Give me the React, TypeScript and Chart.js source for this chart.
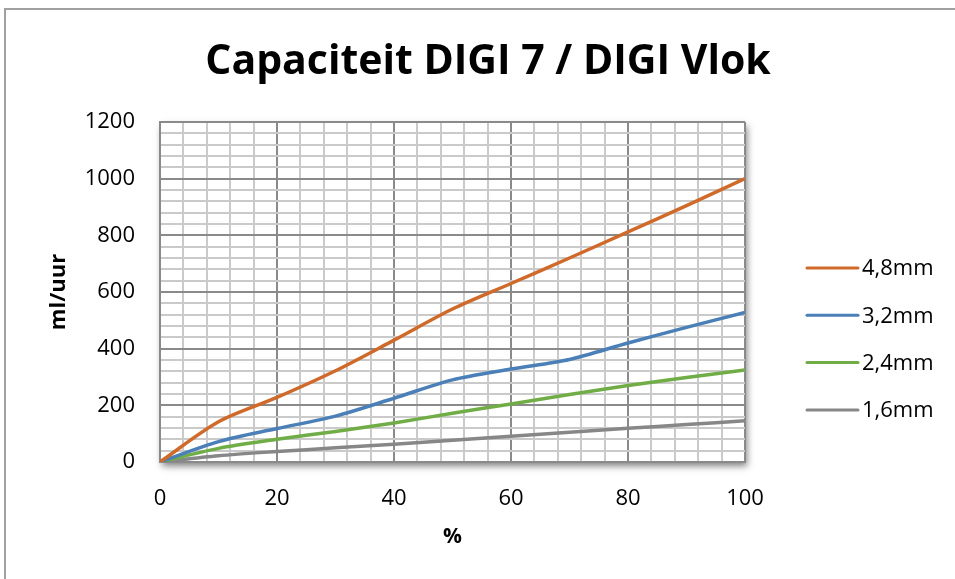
import React, { useEffect, useRef } from "react";
import { Chart, registerables } from "chart.js";

Chart.register(...registerables);

const chartTitle = "Capaciteit DIGI 7 / DIGI Vlok";
const xTitle = "%";
const yTitle = "ml/uur";
const xValues = [0, 10, 20, 30, 40, 50, 60, 70, 80, 90, 100];
const seriesNames = ["4,8mm", "3,2mm", "2,4mm", "1,6mm"];
const s48 = [0, 142, 228, 322, 430, 540, 630, 720, 812, 905, 1000];
const s32 = [0, 72, 118, 162, 225, 290, 328, 362, 420, 475, 528];
const s24 = [0, 48, 80, 108, 138, 172, 205, 238, 270, 298, 325];
const s16 = [0, 22, 37, 50, 63, 77, 91, 105, 119, 132, 146];
const seriesColors = ["#CF6A2A", "#4A7FB7", "#70AD47", "#878787"];

const FONT = "'Open Sans', 'DejaVu Sans', sans-serif";
const MAJOR = "#8a8a8a";
const MINOR = "#cacaca";

const decorPlugin = {
  id: "decor",
  beforeDraw(chart: any) {
    const { ctx, chartArea: a, width, height } = chart;
    ctx.save();
    ctx.fillStyle = "#ffffff";
    ctx.fillRect(0, 0, width, height);
    ctx.strokeStyle = "#a0a0a0";
    ctx.lineWidth = 2;
    ctx.strokeRect(5, 9, width + 20, height + 20);
    ctx.shadowColor = "rgba(0,0,0,0.5)";
    ctx.shadowBlur = 7;
    ctx.shadowOffsetX = 2;
    ctx.shadowOffsetY = 4;
    ctx.fillStyle = "#ffffff";
    ctx.fillRect(a.left, a.top, a.right - a.left, a.bottom - a.top);
    ctx.restore();
  },
  afterDraw(chart: any) {
    const { ctx } = chart;
    ctx.save();
    ctx.fillStyle = "#000000";
    ctx.font = `bold 41px ${FONT}`;
    ctx.textAlign = "center";
    ctx.textBaseline = "alphabetic";
    ctx.fillText(chartTitle, 488, 74);
    ctx.font = `22px ${FONT}`;
    ctx.textAlign = "left";
    ctx.textBaseline = "middle";
    chart.data.datasets.forEach((ds: any, i: number) => {
      const y = 268 + i * 47.3;
      ctx.strokeStyle = ds.borderColor;
      ctx.lineWidth = 3;
      ctx.lineCap = "round";
      ctx.beginPath();
      ctx.moveTo(807, y);
      ctx.lineTo(858, y);
      ctx.stroke();
      ctx.fillStyle = "#000000";
      ctx.fillText(ds.label, 862, y + 1);
    });
    ctx.restore();
  },
};

export default function App() {
  const ref = useRef<HTMLCanvasElement>(null);
  useEffect(() => {
    if (!ref.current) return;
    const seriesData = [s48, s32, s24, s16];
    const chart = new Chart(ref.current, {
      type: "line",
      data: {
        datasets: seriesNames.map((name, i) => ({
          label: name,
          data: xValues.map((x, j) => ({ x, y: seriesData[i][j] })),
          borderColor: seriesColors[i],
          backgroundColor: seriesColors[i],
          borderWidth: 3.5,
          pointRadius: 0,
          tension: 0.3,
          fill: false,
        })),
      },
      options: {
        responsive: false,
        animation: false,
        layout: { padding: { left: 0, top: 122, right: 210, bottom: 0 } },
        plugins: {
          legend: { display: false },
          title: { display: false },
          tooltip: { enabled: false },
        },
        scales: {
          x: {
            type: "linear",
            min: 0,
            max: 100,
            afterFit: (s: any) => {
              s.height = 117;
            },
            grid: {
              drawTicks: false,
              lineWidth: 2,
              color: (c: any) => (c.tick && c.tick.value % 20 === 0 ? MAJOR : MINOR),
            },
            border: { display: true, color: MAJOR, width: 2 },
            ticks: {
              stepSize: 4,
              autoSkip: false,
              maxRotation: 0,
              padding: 24,
              color: "#000000",
              font: { family: FONT, size: 22 },
              callback: (v: any) => (Number(v) % 20 === 0 ? String(v) : ""),
            },
            title: {
              display: true,
              text: xTitle,
              color: "#000000",
              font: { family: FONT, size: 21, weight: "bold" },
              padding: { top: 0, bottom: 29 },
            },
          },
          y: {
            type: "linear",
            min: 0,
            max: 1200,
            afterFit: (s: any) => {
              s.width = 160;
            },
            grid: {
              drawTicks: false,
              lineWidth: 2,
              color: (c: any) => (c.tick && c.tick.value % 200 === 0 ? MAJOR : MINOR),
            },
            border: { display: true, color: MAJOR, width: 2 },
            ticks: {
              stepSize: 40,
              autoSkip: false,
              padding: 25,
              color: "#000000",
              font: { family: FONT, size: 22 },
              callback: (v: any) => (Number(v) % 200 === 0 ? String(v) : ""),
            },
            title: {
              display: true,
              text: yTitle,
              color: "#000000",
              font: { family: FONT, size: 22, weight: "bold" },
              padding: { top: 46, bottom: 0 },
            },
          },
        },
      } as any,
      plugins: [decorPlugin],
    });
    return () => chart.destroy();
  }, []);
  return (
    <div style={{ position: "absolute", left: 0, top: 0, width: 955, height: 579, overflow: "hidden" }}>
      <canvas ref={ref} width={955} height={579} style={{ display: "block" }} />
    </div>
  );
}
